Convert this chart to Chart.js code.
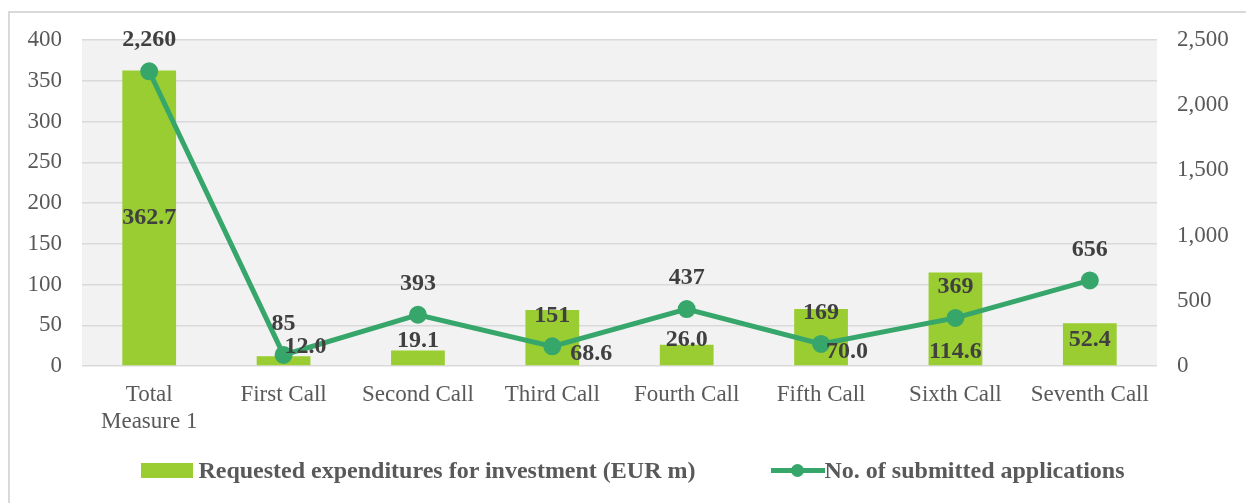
<!DOCTYPE html>
<html>
<head>
<meta charset="utf-8">
<script src="https://cdn.jsdelivr.net/npm/chart.js@4/dist/chart.umd.min.js"></script>
<style>
    body { margin: 0; background: #fff; }
    #wrap { position: relative; width: 1246px; height: 503px; overflow: hidden; }
    #frame { position: absolute; left: 8px; top: 11px; right: -10px; bottom: -10px;
             border-left: 2px solid #d9d9d9; border-top: 2px solid #d9d9d9; }
    #legend { position: absolute; left: 0; width: 1246px; top: 457px; display: flex;
              justify-content: center; gap: 75px; padding-left: 20px; box-sizing: border-box;
              font: bold 24px 'Liberation Serif', serif; color: #595959; }
    .item { display: flex; align-items: center; gap: 5px; white-space: nowrap; }
    .swatch-bar { width: 52px; height: 15px; background: #9acd32; }
    .swatch-line { position: relative; width: 54px; height: 15px; margin-right: -5px; }
    .swatch-line:before { content: ''; position: absolute; left: 0; right: 0; top: 5px; height: 5px; background: #36a66b; }
    .swatch-line:after { content: ''; position: absolute; left: 20px; top: 1px; width: 13px; height: 13px; border-radius: 50%; background: #36a66b; }
    canvas { position: absolute; left: 0; top: 0; }
</style>
</head>
<body>
<div id="wrap">
    <div id="frame"></div>
    <canvas id="chart" width="1246" height="503"></canvas>
    <div id="legend">
        <div class="item"><span class="swatch-bar"></span>Requested expenditures for investment (EUR m)</div>
        <div class="item"><span class="swatch-line"></span>No. of submitted applications</div>
    </div>
</div>
<script>
const categories = [['Total', 'Measure 1'], 'First Call', 'Second Call', 'Third Call',
    'Fourth Call', 'Fifth Call', 'Sixth Call', 'Seventh Call'];
const expenditures = [362.7, 12.0, 19.1, 68.6, 26.0, 70.0, 114.6, 52.4];
const applications = [2260, 85, 393, 151, 437, 169, 369, 656];
const leftTicks = [0, 50, 100, 150, 200, 250, 300, 350, 400];
const rightTicks = [0, 500, 1000, 1500, 2000, 2500];

// label nudges for the bar values (dx, dy from bar base; first one sits in bar middle)
const barLabelShift = [[0, 0], [22, -18], [0, -24], [39, -11], [0, -25], [26, -13], [0, -13], [0, -25]];

const plotBg = {
    id: 'plotBg',
    beforeDraw(chart) {
        const { ctx, chartArea: a } = chart;
        ctx.save();
        ctx.fillStyle = '#f2f2f2';
        ctx.fillRect(a.left, a.top, a.right - a.left, a.bottom - a.top);
        ctx.restore();
    }
};

const valueLabels = {
    id: 'valueLabels',
    afterDatasetsDraw(chart) {
        const ctx = chart.ctx;
        ctx.save();
        ctx.font = 'bold 24px "Liberation Serif", serif';
        ctx.fillStyle = '#404040';
        ctx.textAlign = 'center';
        ctx.textBaseline = 'middle';
        chart.getDatasetMeta(0).data.forEach((bar, i) => {
            const s = barLabelShift[i];
            const y = i === 0 ? (bar.y + bar.base) / 2 : bar.base + s[1];
            ctx.fillText(expenditures[i].toFixed(1), bar.x + s[0], y);
        });
        chart.getDatasetMeta(1).data.forEach((pt, i) => {
            ctx.fillText(applications[i].toLocaleString('en-US'), pt.x, pt.y - 31);
        });
        ctx.restore();
    }
};

const tickFont = { family: '"Liberation Serif", serif', size: 23 };

new Chart(document.getElementById('chart'), {
    data: {
        labels: categories,
        datasets: [
            {
                type: 'bar',
                label: 'Requested expenditures for investment (EUR m)',
                data: expenditures,
                backgroundColor: '#9acd32',
                yAxisID: 'y',
                barPercentage: 0.4,
                categoryPercentage: 1,
                order: 2
            },
            {
                type: 'line',
                label: 'No. of submitted applications',
                data: applications,
                borderColor: '#36a66b',
                backgroundColor: '#36a66b',
                borderWidth: 5,
                pointRadius: 6.5,
                tension: 0,
                yAxisID: 'y1',
                order: 1
            }
        ]
    },
    options: {
        responsive: false,
        animation: false,
        layout: { padding: { top: 40, bottom: 67, left: 0, right: 0 } },
        plugins: { legend: { display: false }, tooltip: { enabled: false } },
        scales: {
            x: {
                grid: { display: false },
                border: { display: false },
                ticks: { font: tickFont, color: '#595959', padding: 7, maxRotation: 0, autoSkip: false },
                afterFit: s => { s.height = 70; }
            },
            y: {
                position: 'left',
                min: 0, max: 400,
                afterBuildTicks: s => { s.ticks = leftTicks.map(v => ({ value: v })); },
                grid: { color: '#d9d9d9', lineWidth: 1.5, drawTicks: false },
                border: { display: false },
                ticks: { font: tickFont, color: '#595959', padding: 20 },
                afterFit: s => { s.width = 82; }
            },
            y1: {
                position: 'right',
                min: 0, max: 2500,
                afterBuildTicks: s => { s.ticks = rightTicks.map(v => ({ value: v })); },
                grid: { display: false, drawTicks: false },
                border: { display: false },
                ticks: { font: tickFont, color: '#595959', padding: 20,
                         callback: v => v.toLocaleString('en-US') },
                afterFit: s => { s.width = 89; }
            }
        }
    },
    plugins: [plotBg, valueLabels]
});
</script>
</body>
</html>
